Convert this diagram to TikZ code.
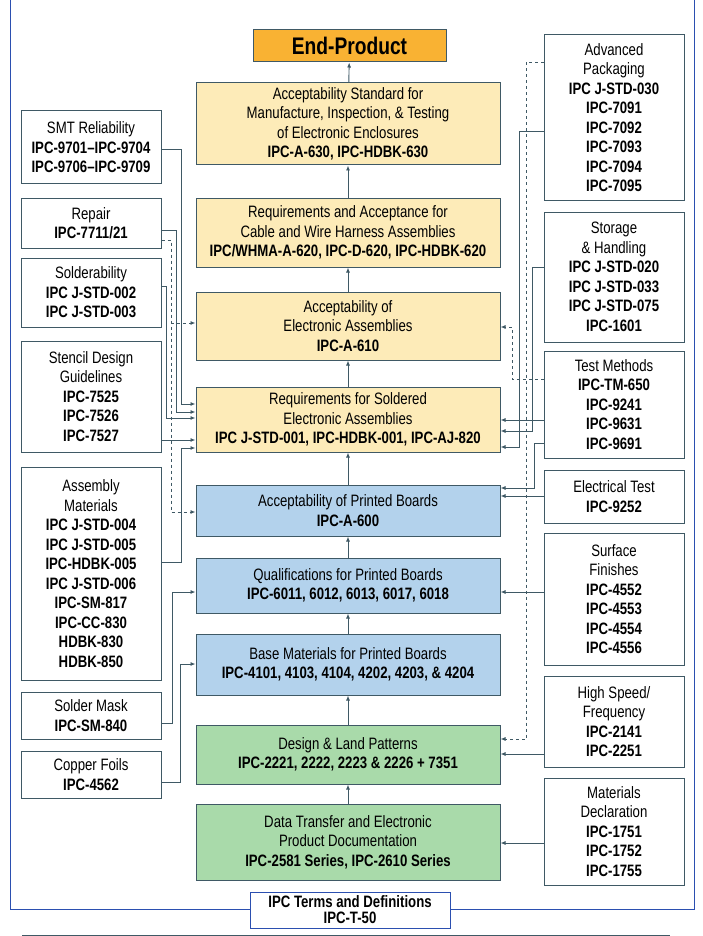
\documentclass[tikz,border=0pt]{standalone}
\usepackage{fontspec}
\setmainfont{Liberation Sans}[FakeStretch=0.8]
\usetikzlibrary{arrows.meta,calc}
\definecolor{edge}{HTML}{3F5965}
\definecolor{frameblue}{HTML}{2B4FB0}
\definecolor{endorange}{HTML}{F9B233}
\definecolor{asmyellow}{HTML}{FDEBB8}
\definecolor{pcbblue}{HTML}{B3D2EC}
\definecolor{dsgngreen}{HTML}{A9DAAA}
\tikzset{
  box/.style={draw=edge, line width=1pt, align=center, inner sep=1pt, font=\fontsize{16.5}{19.5}\selectfont},
  core/.style={box, minimum width=304pt},
  side/.style={box, minimum width=140pt, fill=white},
  link/.style={draw=edge, line width=0.9pt, -{Latex[length=5pt,width=4pt]}},
  dlink/.style={link, dashed},
}
\begin{document}
\begin{tikzpicture}[x=1pt, y=-1pt]
  \useasboundingbox (0,0) rectangle (703,936);
  % frame
  \draw[frameblue, line width=1pt] (10,-2) -- (10,909) -- (694,909) -- (694,-2);
  \draw[edge, line width=1pt] (22,935) -- (670,935);
  \node[box, draw=frameblue, fill=white, minimum width=200pt, minimum height=36pt, font=\fontsize{16.5}{16}\selectfont\bfseries] (terms) at (350,910) {IPC Terms and Definitions\\IPC-T-50};

  % centre column
  \node[core, minimum width=193pt, minimum height=32pt, fill=endorange, font=\fontsize{24}{24}\selectfont\bfseries] (endp) at (349.5,46) {End-Product};
  \node[core, minimum height=82pt, fill=asmyellow] (encl) at (348,124) {Acceptability Standard for\\Manufacture, Inspection, \& Testing\\of Electronic Enclosures\\\textbf{IPC-A-630, IPC-HDBK-630}};
  \node[core, minimum height=69pt, fill=asmyellow] (cable) at (348,232.5) {Requirements and Acceptance for\\Cable and Wire Harness Assemblies\\\textbf{IPC/WHMA-A-620, IPC-D-620, IPC-HDBK-620}};
  \node[core, minimum height=68pt, fill=asmyellow] (acca) at (348,326) {Acceptability of\\Electronic Assemblies\\\textbf{IPC-A-610}};
  \node[core, minimum height=65pt, fill=asmyellow] (solder) at (348,419.5) {Requirements for Soldered\\Electronic Assemblies\\\textbf{IPC J-STD-001, IPC-HDBK-001, IPC-AJ-820}};
  \node[core, minimum height=51pt, fill=pcbblue] (accpb) at (348,510.5) {Acceptability of Printed Boards\\\textbf{IPC-A-600}};
  \node[core, minimum height=55pt, fill=pcbblue] (qual) at (348,585.5) {Qualifications for Printed Boards\\\textbf{IPC-6011, 6012, 6013, 6017, 6018}};
  \node[core, minimum height=61pt, fill=pcbblue] (base) at (348,664.5) {Base Materials for Printed Boards\\\textbf{IPC-4101, 4103, 4104, 4202, 4203, \& 4204}};
  \node[core, minimum height=59pt, fill=dsgngreen] (design) at (348,754.5) {Design \& Land Patterns\\\textbf{IPC-2221, 2222, 2223 \& 2226 + 7351}};
  \node[core, minimum height=76pt, fill=dsgngreen] (data) at (348,842) {Data Transfer and Electronic\\Product Documentation\\\textbf{IPC-2581 Series, IPC-2610 Series}};

  \foreach \lo/\hi in {data/design, design/base, base/qual, qual/accpb, accpb/solder, solder/acca, acca/cable, cable/encl, encl/endp}
    \draw[link] (\lo) -- (\hi);

  % left column
  \node[side, minimum height=73pt] (smt) at (91,147.5) {SMT Reliability\\\textbf{IPC-9701--IPC-9704}\\\textbf{IPC-9706--IPC-9709}};
  \node[side, minimum height=50pt] (repair) at (91,223) {Repair\\\textbf{IPC-7711/21}};
  \node[side, minimum height=69pt] (sldr) at (91,292.5) {Solderability\\\textbf{IPC J-STD-002}\\\textbf{IPC J-STD-003}};
  \node[side, minimum height=111pt] (stencil) at (91,396.5) {Stencil Design\\Guidelines\\\textbf{IPC-7525}\\\textbf{IPC-7526}\\\textbf{IPC-7527}};
  \node[side, minimum height=213pt] (asmmat) at (91,573.5) {Assembly\\Materials\\\textbf{IPC J-STD-004}\\\textbf{IPC J-STD-005}\\\textbf{IPC-HDBK-005}\\\textbf{IPC J-STD-006}\\\textbf{IPC-SM-817}\\\textbf{IPC-CC-830}\\\textbf{HDBK-830}\\\textbf{HDBK-850}};
  \node[side, minimum height=47pt] (mask) at (91,715.5) {Solder Mask\\\textbf{IPC-SM-840}};
  \node[side, minimum height=47pt] (copper) at (91,774.5) {Copper Foils\\\textbf{IPC-4562}};

  \draw[link] (smt.east |- 0,149) -- (181,149) |- (solder.west |- 0,404);
  \draw[link] (repair.east |- 0,230) -- (176,230) |- (solder.west |- 0,412);
  \draw[dlink] (repair.east |- 0,240) -- (171,240) |- (accpb.west |- 0,512);
  \draw[dlink] (171,323) -- (acca.west |- 0,323);
  \draw[link] (sldr.east |- 0,286) -- (166,286) |- (solder.west |- 0,418);
  \draw[link] (stencil.east |- 0,440) -- (solder.west |- 0,440);
  \draw[link] (asmmat.east |- 0,562) -- (181,562) |- (solder.west |- 0,448);
  \draw[link] (mask.east |- 0,723) -- (172,723) |- (qual.west |- 0,592);
  \draw[link] (copper.east |- 0,782) -- (180,782) |- (base.west |- 0,664);

  % right column
  \node[side, minimum height=165pt] (advpkg) at (614,117.5) {Advanced\\Packaging\\\textbf{IPC J-STD-030}\\\textbf{IPC-7091}\\\textbf{IPC-7092}\\\textbf{IPC-7093}\\\textbf{IPC-7094}\\\textbf{IPC-7095}};
  \node[side, minimum height=130pt] (storage) at (614,277) {Storage\\\& Handling\\\textbf{IPC J-STD-020}\\\textbf{IPC J-STD-033}\\\textbf{IPC J-STD-075}\\\textbf{IPC-1601}};
  \node[side, minimum height=107pt] (test) at (614,404.5) {Test Methods\\\textbf{IPC-TM-650}\\\textbf{IPC-9241}\\\textbf{IPC-9631}\\\textbf{IPC-9691}};
  \node[side, minimum height=53pt] (etest) at (614,496.5) {Electrical Test\\\textbf{IPC-9252}};
  \node[side, minimum height=132pt] (finish) at (614,599) {Surface\\Finishes\\\textbf{IPC-4552}\\\textbf{IPC-4553}\\\textbf{IPC-4554}\\\textbf{IPC-4556}};
  \node[side, minimum height=91pt] (hspeed) at (614,721.5) {High Speed/\\Frequency\\\textbf{IPC-2141}\\\textbf{IPC-2251}};
  \node[side, minimum height=107pt] (matdecl) at (614,831.5) {Materials\\Declaration\\\textbf{IPC-1751}\\\textbf{IPC-1752}\\\textbf{IPC-1755}};

  \draw[dlink] (advpkg.west |- 0,62) -- (526,62) |- (design.east |- 0,739);
  \draw[link] (advpkg.west |- 0,131) -- (519,131) |- (solder.east |- 0,447);
  \draw[link] (storage.west |- 0,267) -- (532,267) |- (solder.east |- 0,431);
  \draw[dlink] (test.west |- 0,379) -- (512,379) |- (acca.east |- 0,327);
  \draw[link] (test.west |- 0,420) -- (solder.east |- 0,420);
  \draw[link] (test.west |- 0,443) -- (534,443) |- (accpb.east |- 0,488);
  \draw[link] (etest.west |- 0,496) -- (accpb.east |- 0,496);
  \draw[link] (finish.west |- 0,592) -- (qual.east |- 0,592);
  \draw[link] (hspeed.west |- 0,754) -- (design.east |- 0,754);
  \draw[link] (matdecl.west |- 0,843) -- (data.east |- 0,843);
\end{tikzpicture}
\end{document}
